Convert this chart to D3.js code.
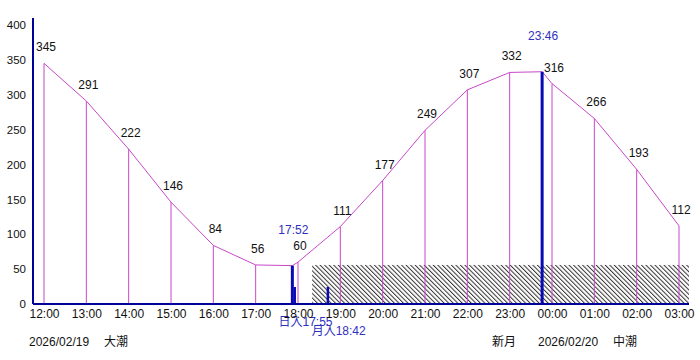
<!DOCTYPE html>
<html>
<head>
<meta charset="utf-8">
<script src="https://cdn.jsdelivr.net/npm/d3@7"></script>
<style>
  body { margin: 0; background: #fff; }
  svg text { font-family: "Liberation Sans", Arial, "Noto Sans CJK JP", sans-serif; }
</style>
</head>
<body>
<div id="chart"></div>
<script>
// hourly tide heights (cm)
const hourLabels = ["12:00","13:00","14:00","15:00","16:00","17:00","18:00","19:00",
  "20:00","21:00","22:00","23:00","00:00","01:00","02:00","03:00"];
const hourValues = [345, 291, 222, 146, 84, 56, 60, 111, 177, 249, 307, 332, 316, 266, 193, 112];

// low / high tide
const tideTimes = ["17:52", "23:46"];
const tideValues = [55, 333];

// sun / moon events
const eventNames = ["日入", "月入"];
const eventTimes = ["17:55", "18:42"];

// night band
const nightStart = "18:20";
const nightLevel = 56;

const yTicks = [0, 50, 100, 150, 200, 250, 300, 350, 400];

const footLeft = ["2026/02/19", "大潮"];
const footRight = ["新月", "2026/02/20", "中潮"];

const width = 700, height = 360;

// times after midnight belong to the next day
function toDate(s) {
  const [h, m] = s.split(":").map(Number);
  const day = h < 12 ? 20 : 19;
  return new Date(2026, 1, day, h, m);
}

const x = d3.scaleTime()
  .domain([toDate("12:00"), toDate("03:00")])
  .range([44, 679]);
const y = d3.scaleLinear().domain([0, 400]).range([304, 25]);

const axisLeftX = 33, axisRightX = 689;

const svg = d3.select("#chart").append("svg")
  .attr("width", width)
  .attr("height", height);

const defs = svg.append("defs");
const pat = defs.append("pattern")
  .attr("id", "hatch")
  .attr("patternUnits", "userSpaceOnUse")
  .attr("width", 3.2)
  .attr("height", 3.2)
  .attr("patternTransform", "rotate(-45)");
pat.append("line")
  .attr("x1", 0.5).attr("y1", 0).attr("x2", 0.5).attr("y2", 3.2)
  .attr("stroke", "#333").attr("stroke-width", 1);

// night hatch
svg.append("rect")
  .attr("x", x(toDate(nightStart)))
  .attr("y", y(nightLevel))
  .attr("width", axisRightX - x(toDate(nightStart)))
  .attr("height", y(0) - y(nightLevel))
  .attr("fill", "url(#hatch)");

// combined points for the curve
const points = hourLabels.map((t, i) => ({ t: toDate(t), v: hourValues[i] }))
  .concat(tideTimes.map((t, i) => ({ t: toDate(t), v: tideValues[i] })))
  .sort((a, b) => a.t - b.t);

const purple = "#c848c8";

// hourly drop lines
svg.append("g").selectAll("line")
  .data(hourLabels)
  .join("line")
  .attr("x1", (d) => x(toDate(d)))
  .attr("x2", (d) => x(toDate(d)))
  .attr("y1", y(0))
  .attr("y2", (d, i) => y(hourValues[i]))
  .attr("stroke", purple)
  .attr("stroke-width", 1);

svg.append("path")
  .datum(points)
  .attr("fill", "none")
  .attr("stroke", purple)
  .attr("stroke-width", 1)
  .attr("d", d3.line().x((d) => x(d.t)).y((d) => y(d.v)));

// hourly value labels
svg.append("g").selectAll("text")
  .data(hourLabels)
  .join("text")
  .attr("x", (d) => x(toDate(d)) + 2)
  .attr("y", (d, i) => y(hourValues[i]) - 12)
  .attr("text-anchor", "middle")
  .attr("font-size", 12)
  .attr("fill", "#111")
  .text((d, i) => hourValues[i]);

// tide markers
const blue = "#0a0ab4";
svg.append("g").selectAll("rect")
  .data(tideTimes)
  .join("rect")
  .attr("x", (d) => x(toDate(d)) - 1.5)
  .attr("y", (d, i) => y(tideValues[i]))
  .attr("width", 3)
  .attr("height", (d, i) => y(0) - y(tideValues[i]))
  .attr("fill", blue);

svg.append("g").selectAll("text")
  .data(tideTimes)
  .join("text")
  .attr("x", (d) => x(toDate(d)) + 1)
  .attr("y", (d, i) => y(tideValues[i]) - 32)
  .attr("text-anchor", "middle")
  .attr("font-size", 12)
  .attr("fill", "#3030c0")
  .text((d) => d);

// sun / moon event bars
svg.append("g").selectAll("rect")
  .data(eventTimes)
  .join("rect")
  .attr("x", (d) => x(toDate(d)) - 1)
  .attr("y", y(0) - 17)
  .attr("width", 2.5)
  .attr("height", 17)
  .attr("fill", blue);

svg.append("g").selectAll("text")
  .data(eventTimes)
  .join("text")
  .attr("x", (d) => x(toDate(d)) - 16)
  .attr("y", (d, i) => 326 + i * 9)
  .attr("font-size", 12)
  .attr("fill", "#3030c0")
  .text((d, i) => eventNames[i] + d);

// axes
const axisColor = "#00009a";
svg.append("line")
  .attr("x1", axisLeftX).attr("x2", axisLeftX)
  .attr("y1", 18).attr("y2", y(0))
  .attr("stroke", axisColor).attr("stroke-width", 2);
svg.append("line")
  .attr("x1", axisLeftX).attr("x2", axisRightX)
  .attr("y1", y(0)).attr("y2", y(0))
  .attr("stroke", axisColor).attr("stroke-width", 2);

const yAxisG = svg.append("g")
  .attr("transform", `translate(${axisLeftX},0)`)
  .call(d3.axisLeft(y).tickValues(yTicks).tickSize(0).tickPadding(7));
yAxisG.select(".domain").remove();
yAxisG.selectAll("text")
  .attr("font-size", 11.5)
  .attr("fill", "#111");

const xAxisG = svg.append("g")
  .attr("transform", `translate(0,${y(0)})`)
  .call(d3.axisBottom(x)
    .tickValues(hourLabels.map(toDate))
    .tickFormat(d3.timeFormat("%H:%M"))
    .tickSize(0)
    .tickPadding(5));
xAxisG.select(".domain").remove();
xAxisG.selectAll("text")
  .attr("font-size", 12)
  .attr("fill", "#111");

// footer
const foot = svg.append("g").attr("font-size", 12).attr("fill", "#111");
const leftX = [29, 104];
const rightX = [492, 538, 613];
foot.selectAll(".fl")
  .data(footLeft)
  .join("text")
  .attr("class", "fl")
  .attr("x", (d, i) => leftX[i])
  .attr("y", 346)
  .text((d) => d);
foot.selectAll(".fr")
  .data(footRight)
  .join("text")
  .attr("class", "fr")
  .attr("x", (d, i) => rightX[i])
  .attr("y", 346)
  .text((d) => d);
</script>
</body>
</html>
